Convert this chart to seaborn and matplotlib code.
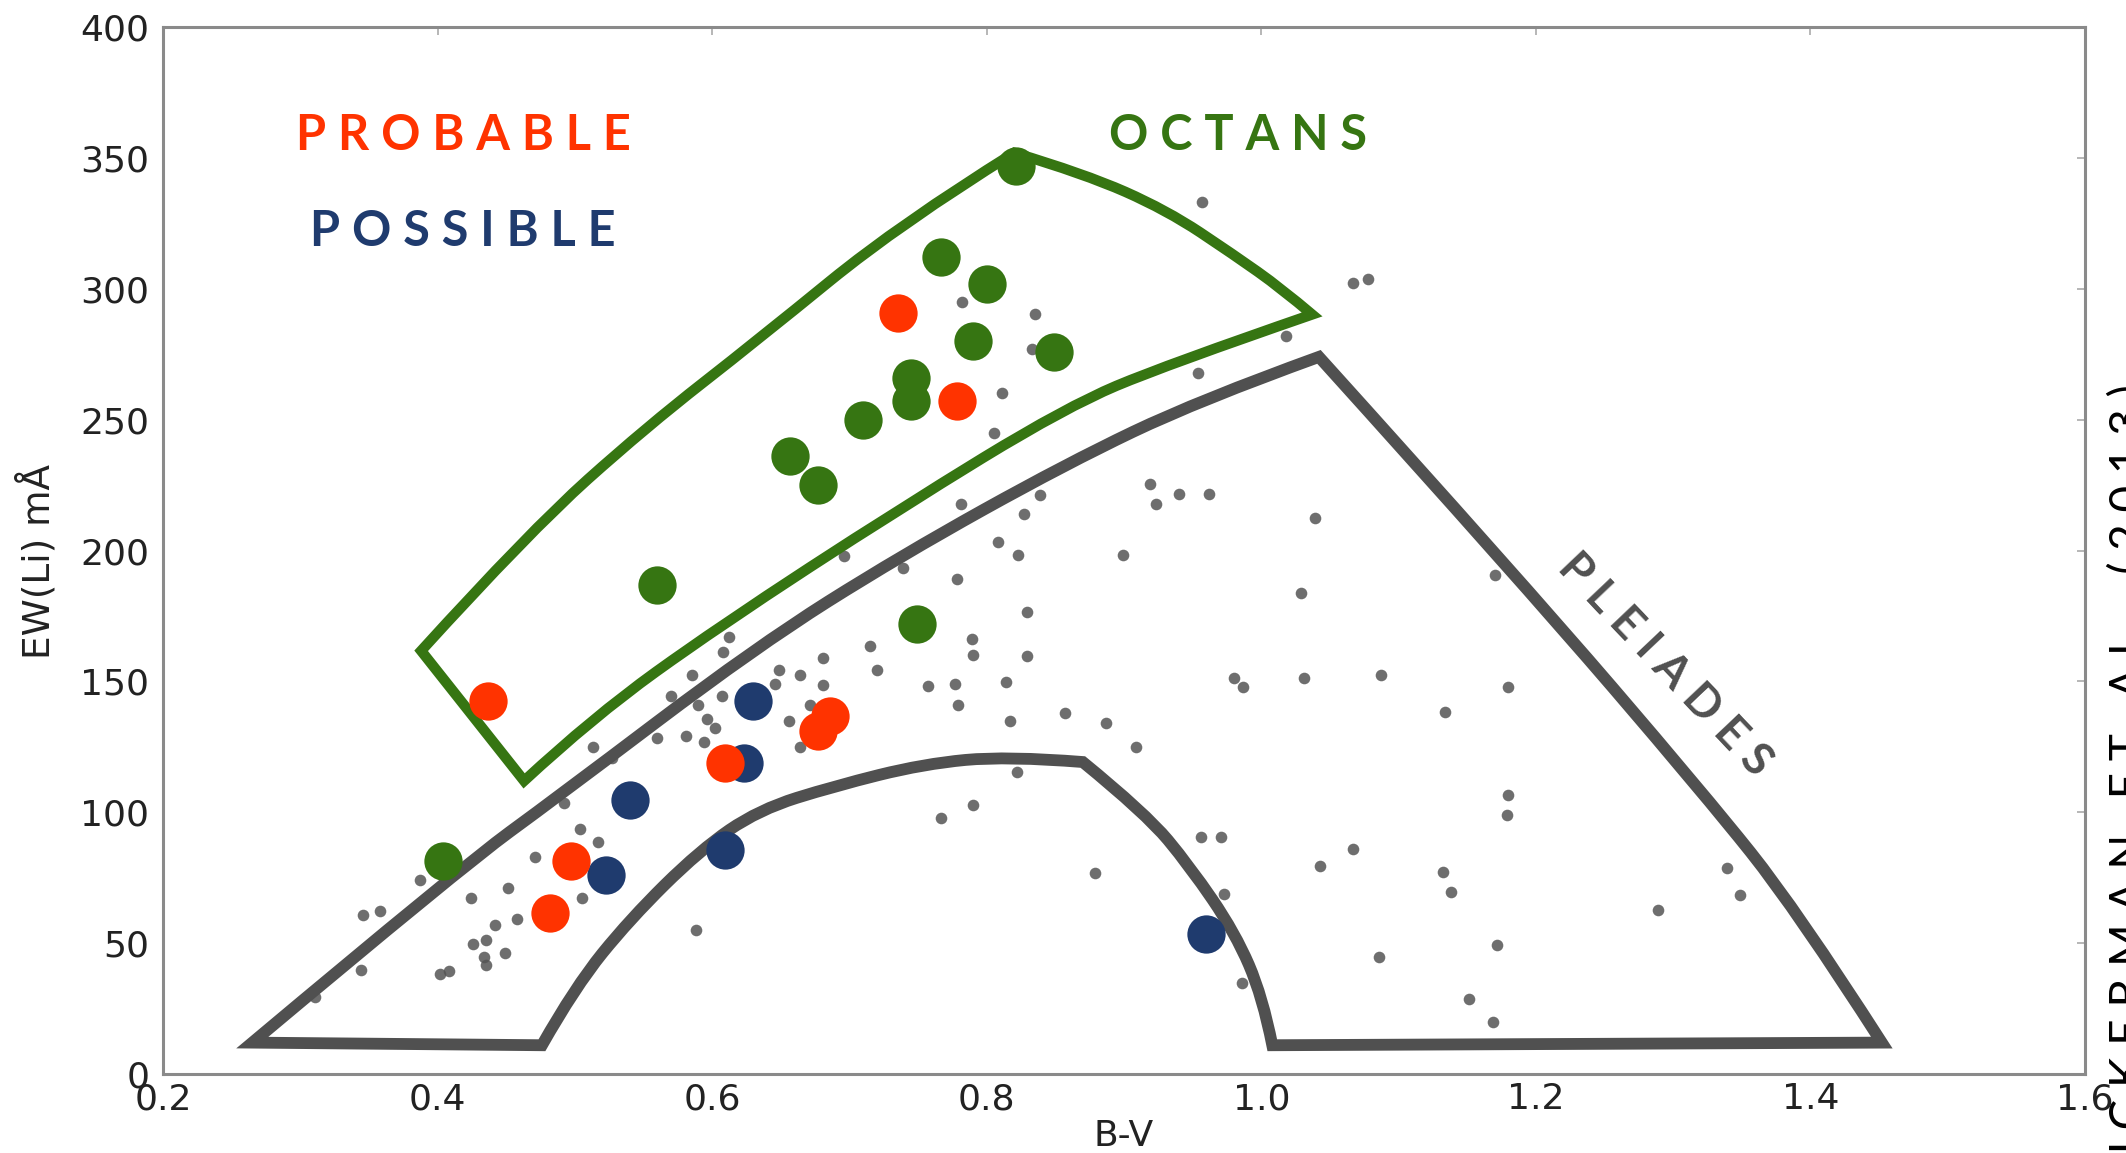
import matplotlib
matplotlib.use("Agg")
import matplotlib.pyplot as plt
from matplotlib.path import Path
from matplotlib.patches import PathPatch
import numpy as np
import pandas as pd
import seaborn as sns

# 数据：B-V 与 EW(Li)
probable_bv = [0.735, 0.778, 0.437, 0.686, 0.677, 0.609, 0.497, 0.482]
probable_ew = [290.7, 257.0, 142.5, 136.8, 131.0, 118.7, 81.3, 61.7]

possible_bv = [0.630, 0.623, 0.540, 0.523, 0.609, 0.960]
possible_ew = [142.5, 118.7, 104.7, 76.2, 85.5, 53.4]

octans_bv = [0.821, 0.767, 0.800, 0.790, 0.849, 0.745, 0.745, 0.710, 0.657, 0.677, 0.560, 0.749, 0.404]
octans_ew = [347.0, 312.0, 302.0, 280.0, 276.0, 266.0, 257.0, 250.0, 236.0, 225.0, 187.0, 172.0, 81.3]

# 背景星 (Pleiades)
field_bv = [0.311, 0.344, 0.346, 0.358, 0.387, 0.402, 0.408, 0.424, 0.426, 0.435, 0.434, 0.435,
            0.442, 0.449, 0.451, 0.458, 0.471, 0.492, 0.504, 0.505, 0.513, 0.517, 0.527, 0.560,
            0.581, 0.570, 0.585, 0.590, 0.596, 0.602, 0.594, 0.607, 0.608, 0.612, 0.588, 0.957,
            1.067, 1.078, 0.782, 0.835, 0.833, 1.018, 0.811, 0.954, 0.805, 0.781, 0.839, 0.827,
            0.919, 0.940, 0.962, 0.923, 1.039, 0.808, 0.823, 0.899, 1.029, 0.778, 0.739, 0.829,
            0.789, 0.790, 0.829, 0.696, 0.681, 0.715, 0.720, 0.649, 0.664, 0.646, 0.681, 0.656,
            0.664, 0.671, 0.757, 0.777, 0.779, 0.814, 0.817, 0.857, 0.887, 0.909, 0.822, 0.790,
            0.767, 0.956, 0.971, 0.879, 0.973, 1.067, 1.043, 1.086, 0.986, 1.170, 0.980, 0.987,
            1.031, 1.087, 1.180, 1.134, 1.180, 1.179, 1.132, 1.138, 1.339, 1.349, 1.289, 1.172,
            1.151, 1.169]
field_ew = [29.5, 39.9, 60.6, 62.2, 74.1, 38.3, 39.4, 67.4, 49.7, 51.3, 44.6, 41.5,
            57.0, 46.1, 71.0, 59.1, 82.9, 103.6, 93.8, 67.4, 124.9, 88.6, 120.7, 128.5,
            129.0, 144.6, 152.3, 140.9, 135.8, 132.1, 126.9, 144.6, 161.1, 166.8, 54.9, 333.2,
            302.1, 303.6, 294.8, 290.2, 277.2, 281.9, 260.1, 267.9, 245.1, 217.6, 221.2, 214.0,
            225.4, 221.8, 221.8, 217.6, 212.4, 203.1, 198.4, 198.4, 183.9, 189.1, 193.3, 176.7,
            166.3, 160.1, 159.6, 197.9, 159.1, 163.7, 154.4, 154.4, 152.3, 149.2, 148.7, 134.7,
            124.9, 140.9, 148.2, 149.2, 140.9, 149.7, 134.7, 137.8, 134.2, 124.9, 115.5, 102.6,
            97.9, 90.7, 90.7, 76.7, 68.9, 86.0, 79.3, 44.6, 34.7, 190.7, 151.3, 147.7,
            151.3, 152.3, 147.7, 138.3, 106.7, 99.0, 77.2, 69.4, 78.8, 68.4, 62.7, 49.2,
            28.5, 19.7]

# 区域轮廓，每条边单独给出 (B-V, EW)，边与边之间是尖角
octans_edges = [
    [(0.388, 161.7), (0.467, 207.3), (0.552, 247.2), (0.634, 280.8), (0.737, 324.9), (0.820, 352.0)],
    [(0.820, 352.0), (0.871, 344.0), (0.931, 330.1), (0.980, 313.0), (1.015, 300.0), (1.037, 290.2)],
    [(1.037, 290.2), (0.931, 271.0), (0.858, 254.9), (0.737, 216.1), (0.605, 171.0), (0.513, 136.3), (0.463, 112.0)],
    [(0.463, 112.0), (0.388, 161.7)],
]
pleiades_edges = [
    [(0.265, 12.0), (0.418, 79.3), (0.487, 105.7), (0.632, 163.2), (0.737, 197.9), (0.858, 233.2), (0.955, 257.5), (1.042, 274.0)],
    [(1.042, 274.0), (1.189, 188.6), (1.323, 106.7), (1.390, 62.7), (1.452, 12.0)],
    [(1.452, 12.0), (1.008, 11.0)],
    [(1.008, 11.0), (1.001, 29.5), (0.981, 53.9), (0.948, 79.3), (0.916, 99.5), (0.870, 119.2)],
    [(0.870, 119.2), (0.815, 121.5), (0.754, 118.5), (0.689, 110.0), (0.634, 101.0), (0.591, 85.5), (0.540, 59.1), (0.500, 33.2), (0.476, 11.0)],
    [(0.476, 11.0), (0.265, 12.0)],
]

red = "#ff3300"
blue = "#1f3b6e"
green = "#367512"
dark = "#505050"


def outline_path(edges):
    # 每条边用二次曲线平滑（经过相邻点的中点），角点保持尖角
    verts = [edges[0][0]]
    codes = [Path.MOVETO]
    for pts in edges:
        if len(pts) == 2:
            verts.append(pts[1])
            codes.append(Path.LINETO)
            continue
        for i in range(1, len(pts) - 1):
            if i < len(pts) - 2:
                end = ((pts[i][0] + pts[i + 1][0]) / 2, (pts[i][1] + pts[i + 1][1]) / 2)
            else:
                end = pts[-1]
            verts += [pts[i], end]
            codes += [Path.CURVE3, Path.CURVE3]
    verts.append(edges[0][0])
    codes.append(Path.CLOSEPOLY)
    return Path(verts, codes)


sns.set_style("white")
plt.rcParams['font.family'] = ['DejaVu Sans']

fig = plt.figure(figsize=(21.26, 11.53), dpi=100)
ax = fig.add_axes([0.0767, 0.0685, 0.904, 0.908])

field = pd.DataFrame({"bv": field_bv, "ew": field_ew})
sns.scatterplot(data=field, x="bv", y="ew", ax=ax, color="#555555", s=70,
                linewidth=0, alpha=0.85, zorder=2)

ax.add_patch(PathPatch(outline_path(pleiades_edges), fill=False, edgecolor=dark,
                       linewidth=8.5, joinstyle="miter", zorder=3))
ax.add_patch(PathPatch(outline_path(octans_edges), fill=False, edgecolor=green,
                       linewidth=7.5, joinstyle="miter", zorder=3))

groups = [("octans", octans_bv, octans_ew, green),
          ("possible", possible_bv, possible_ew, blue),
          ("probable", probable_bv, probable_ew, red)]
for name, bv, ew, c in groups:
    df = pd.DataFrame({"bv": bv, "ew": ew})
    sns.scatterplot(data=df, x="bv", y="ew", ax=ax, color=c, s=760, linewidth=0, zorder=4)

ax.set_xlim(0.2, 1.6)
ax.set_ylim(0, 400)
ax.set_xticks(np.arange(0.2, 1.61, 0.2))
ax.set_yticks(np.arange(0, 401, 50))
ax.set_xticklabels(["0.2", "0.4", "0.6", "0.8", "1.0", "1.2", "1.4", "1.6"])
for s in ax.spines.values():
    s.set_color("#8a8a8a")
    s.set_linewidth(2.2)
ax.tick_params(direction="in", top=True, right=True, length=6, width=1.2, color="#aaaaaa",
               labelsize=26, labelcolor="#222222")
ax.tick_params(axis="y", pad=10)
ax.tick_params(axis="x", pad=6)

ax.set_xlabel("B-V", fontsize=26, color="#222222")
ax.set_ylabel("EW(Li) mÅ", fontsize=27, color="#222222")
ax.xaxis.set_label_coords(0.5, -0.043)
ax.yaxis.set_label_coords(-0.055, 0.49)

# 标注文字（加字距）
lab_font = ['Lato', 'DejaVu Sans']


def spaced(t):
    return " ".join(t)


ax.text(0.419, 358.5, spaced("PROBABLE"), color=red, fontsize=35, fontweight="bold",
        family=lab_font, ha="center", va="center", zorder=5)
ax.text(0.418, 322.0, spaced("POSSIBLE"), color=blue, fontsize=35, fontweight="bold",
        family=lab_font, ha="center", va="center", zorder=5)
ax.text(0.983, 358.5, spaced("OCTANS"), color=green, fontsize=35, fontweight="bold",
        family=lab_font, ha="center", va="center", zorder=5)
ax.text(1.294, 156.5, spaced("PLEIADES"), color=dark, fontsize=33, fontweight="bold",
        family=lab_font, ha="center", va="center", rotation=-46.5, rotation_mode="anchor", zorder=5)

credit = "   ".join(spaced(w) for w in ["ZUCKERMAN", "ET", "AL.", "(2013)"])
fig.text(0.9915, 0.667, credit, color="black", fontsize=33, family=lab_font,
         rotation=90, ha="left", va="top")

fig.savefig("out.png", dpi=100)
